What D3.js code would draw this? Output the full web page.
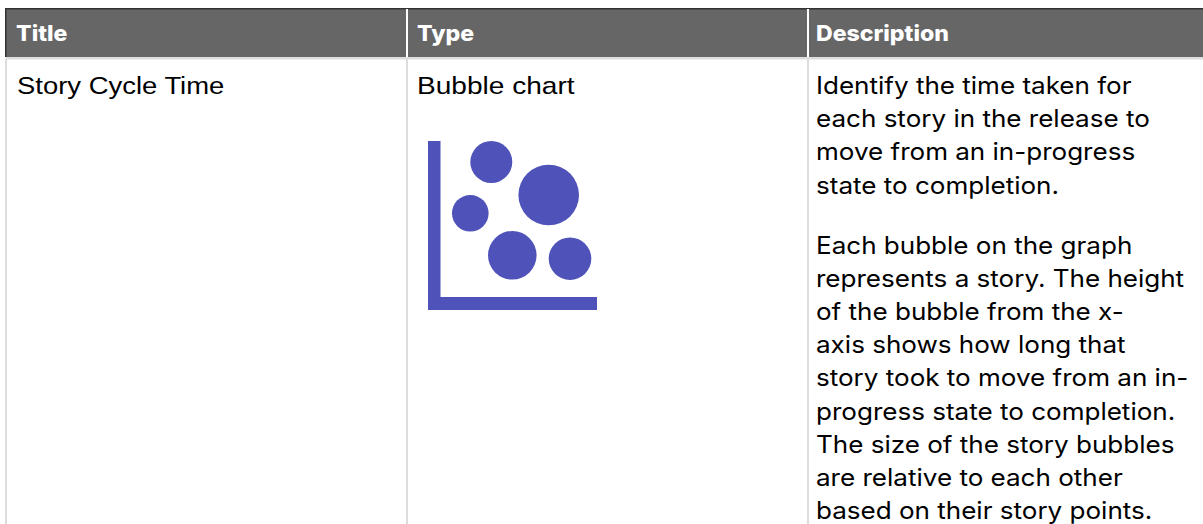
<!DOCTYPE html>
<html>
<head>
  <meta charset="utf-8">
  <style type="text/css">
	html, body { margin: 0; padding: 0; background: #fff; overflow: hidden; }
	.head text { font: 800 22px Inter, sans-serif; fill: #fff; }
	.cell { font: 24px "Liberation Sans", Arial, sans-serif; fill: #000; }
	.desc { font: 24px Inter, sans-serif; fill: #000; }
  </style>
</head>
<body>
<svg class="chart" width="1203" height="524"></svg>
<script src="https://d3js.org/d3.v7.min.js"></script>
<script>
// table text
var headers = ["Title", "Type", "Description"];
var rowCells = ["Story Cycle Time", "Bubble chart"];
var descLines = [
  "Identify the time taken for",
  "each story in the release to",
  "move from an in-progress",
  "state to completion."
];
var descLines2 = [
  "Each bubble on the graph",
  "represents a story. The height",
  "of the bubble from the x-",
  "axis shows how long that",
  "story took to move from an in-",
  "progress state to completion.",
  "The size of the story bubbles",
  "are relative to each other",
  "based on their story points."
];

// bubble icon values
var bubbleX = [63.3, 120.7, 42.3, 84.3, 142];
var bubbleY = [148, 115, 96.7, 54.7, 51.3];
var bubblePoints = [3.84, 8, 2.92, 5.14, 3.95];

var svg = d3.select(".chart");
var colX = d3.scaleOrdinal().domain(headers).range([6, 407, 808]);
var textX = d3.scaleOrdinal().domain(headers).range([16, 417, 816]);

// the reference type runs wider than the installed fonts, so stretch it sideways
function stretch(px, py, k) {
  return "translate(" + px + "," + py + ") scale(" + k + ",1)";
}

// header band
svg.append("rect").attr("x", 6).attr("y", 9).attr("width", 1197).attr("height", 48).attr("fill", "#666");
svg.append("rect").attr("x", 5).attr("y", 8).attr("width", 1198).attr("height", 1.5).attr("fill", "#333");
svg.append("rect").attr("x", 5).attr("y", 8).attr("width", 1.5).attr("height", 49).attr("fill", "#333");
svg.append("rect").attr("x", 6).attr("y", 57).attr("width", 1197).attr("height", 2.5).attr("fill", "#ddd");

// column dividers
svg.selectAll("rect.divider")
  .data(headers.slice(1))
  .enter().append("rect")
    .attr("class", "divider")
    .attr("x", function(d) { return colX(d) - 1; })
    .attr("y", 9)
    .attr("width", 2)
    .attr("height", 48)
    .attr("fill", "#fff");
svg.selectAll("rect.rule")
  .data(headers)
  .enter().append("rect")
    .attr("class", "rule")
    .attr("x", function(d) { return colX(d) - 1; })
    .attr("y", 59)
    .attr("width", 2)
    .attr("height", 465)
    .attr("fill", "#ddd");

var head = svg.append("g").attr("class", "head");
head.selectAll("text")
  .data(headers)
  .enter().append("text")
    .attr("transform", function(d) { return stretch(textX(d), 41, 1.05); })
    .text(function(d) { return d; });

svg.append("g").selectAll("text")
  .data(rowCells)
  .enter().append("text")
    .attr("class", "cell")
    .attr("transform", function(d, i) { return stretch(textX(headers[i]) + 1 - i, 93.5, i ? 1.17 : 1.144); })
    .text(function(d) { return d; });

function drawLines(lines, top) {
  svg.append("g").selectAll("text")
    .data(lines)
    .enter().append("text")
      .attr("class", "desc")
      .attr("transform", function(d, i) { return stretch(816, top + i * 33.2, 1.085); })
      .text(function(d) { return d; });
}
drawLines(descLines, 94);
drawLines(descLines2, 253.5);

// bubble icon
var x = d3.scaleLinear().domain([0, 169]).range([428, 597]);
var y = d3.scaleLinear().domain([0, 169]).range([310, 141]);
var r = d3.scaleSqrt().domain([0, 8]).range([0, 30.3]);
var iconColor = "#4f52b8";

svg.append("rect").attr("x", x(0)).attr("y", y(169)).attr("width", 12.5).attr("height", y(0) - y(169)).attr("fill", iconColor);
svg.append("rect").attr("x", x(0)).attr("y", y(13)).attr("width", x(169) - x(0)).attr("height", y(0) - y(13)).attr("fill", iconColor);

svg.append("g").selectAll("circle")
  .data(bubbleX)
  .enter().append("circle")
    .attr("cx", function(d) { return x(d); })
    .attr("cy", function(d, i) { return y(bubbleY[i]); })
    .attr("r", function(d, i) { return r(bubblePoints[i]); })
    .attr("fill", iconColor);
</script>
</body>
</html>
